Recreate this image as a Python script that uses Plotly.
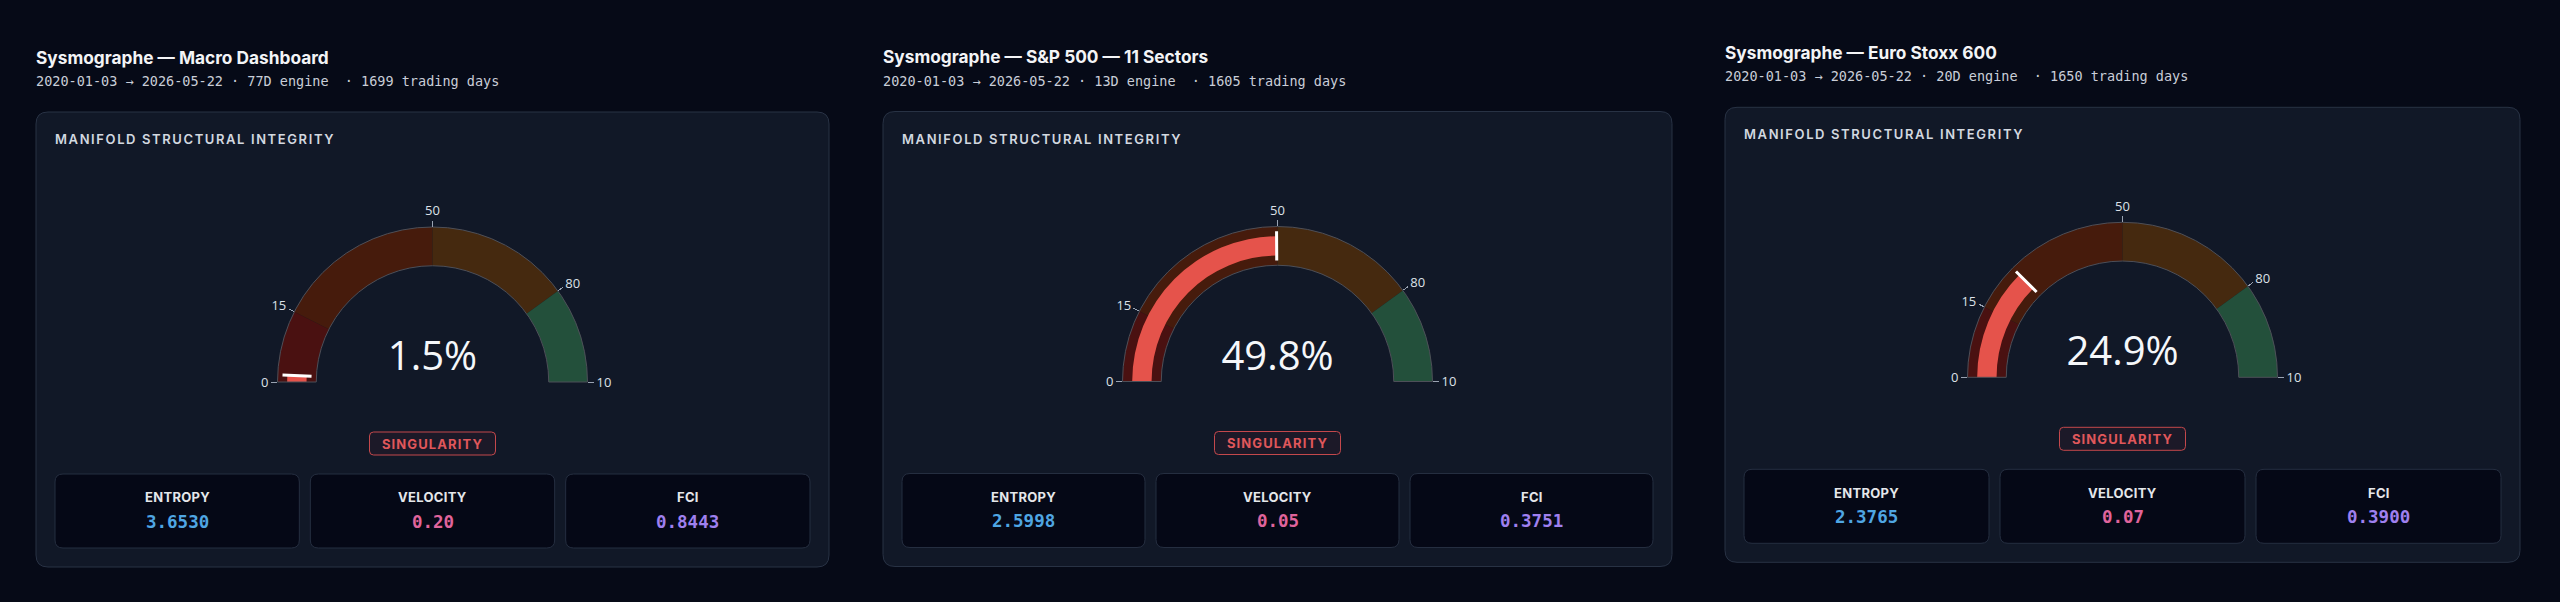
import plotly.graph_objects as go

W, H = 2560, 602

# ---------------- data ----------------
panel_names = ["Macro Dashboard", "S&P 500 — 11 Sectors", "Euro Stoxx 600"]
engine_dims = ["77D", "13D", "20D"]
trading_days = [1699, 1605, 1650]
start_dates = ["2020-01-03", "2020-01-03", "2020-01-03"]
end_dates = ["2026-05-22", "2026-05-22", "2026-05-22"]
integrity_pct = [1.5, 49.8, 24.9]
regime_labels = ["SINGULARITY", "SINGULARITY", "SINGULARITY"]
metric_names = ["ENTROPY", "VELOCITY", "FCI"]
entropy_vals = [3.6530, 2.5998, 2.3765]
velocity_vals = [0.20, 0.05, 0.07]
fci_vals = [0.8443, 0.3751, 0.3900]
step_edges = [0, 15, 50, 80, 100]
tick_vals = [0, 15, 50, 80, 100]
tick_labels = ["0", "15", "50", "80", "10"]

# ---------------- styling / layout ----------------
step_colors = ["#4a1111", "#461b0c", "#45290f", "#23503b"]
metric_colors = ["#4fa6e3", "#e0649c", "#9f80ef"]
metric_formats = ["{:.4f}", "{:.2f}", "{:.4f}"]

card_x0 = [36, 883, 1725]
card_y0 = [112, 111.5, 107.3]
card_w = [793, 789, 795]
gauge_r = 155

PAGE_BG = "#060a17"
CARD_BG = "#111827"
CARD_BORDER = "#283244"
BOX_BG = "#050816"
BOX_BORDER = "#252e40"


def px(x):
    return x / W


def py(y):
    return 1 - y / H


def rounded_rect(x0, y0, x1, y1, r):
    return (
        f"M {px(x0 + r)},{py(y0)} L {px(x1 - r)},{py(y0)} "
        f"Q {px(x1)},{py(y0)} {px(x1)},{py(y0 + r)} "
        f"L {px(x1)},{py(y1 - r)} Q {px(x1)},{py(y1)} {px(x1 - r)},{py(y1)} "
        f"L {px(x0 + r)},{py(y1)} Q {px(x0)},{py(y1)} {px(x0)},{py(y1 - r)} "
        f"L {px(x0)},{py(y0 + r)} Q {px(x0)},{py(y0)} {px(x0 + r)},{py(y0)} Z"
    )


fig = go.Figure()
shapes = []
annotations = []


def add_text(x, y, text, size, color, family, weight=400, xanchor="left"):
    annotations.append(dict(
        x=px(x), y=py(y), xref="paper", yref="paper", text=text,
        showarrow=False, xanchor=xanchor, yanchor="middle",
        font=dict(size=size, color=color, family=family, weight=weight),
        borderpad=0,
    ))


for i in range(3):
    x0, y0, w = card_x0[i], card_y0[i], card_w[i]
    x1 = x0 + w
    cx = x0 + w / 2

    # header
    add_text(x0 - 1, y0 - 55, f"Sysmographe — {panel_names[i]}", 17.3, "#f3f4f6", "Inter", 700)
    sub = (f"{start_dates[i]} → {end_dates[i]} · {engine_dims[i]} engine \u00a0· "
           f"{trading_days[i]} trading days")
    add_text(x0 - 1, y0 - 31, sub, 13.5, "#c9ced8", "DejaVu Sans Mono", 400)

    # card
    shapes.append(dict(type="path", path=rounded_rect(x0, y0, x1, y0 + 455, 12),
                       xref="paper", yref="paper", fillcolor=CARD_BG,
                       line=dict(color=CARD_BORDER, width=1), layer="below"))
    add_text(x0 + 18, y0 + 27,
             '<span style="letter-spacing:1.6px">MANIFOLD STRUCTURAL INTEGRITY</span>',
             13, "#d3d8e0", "Inter", 600)

    # gauge
    cy = y0 + 270
    fig.add_trace(go.Indicator(
        mode="gauge+number",
        value=integrity_pct[i],
        number=dict(suffix="%", valueformat=".1f",
                    font=dict(size=40, color="#f5f7fa", family="Open Sans")),
        domain=dict(x=[px(cx - gauge_r), px(cx + gauge_r)], y=[py(cy), py(cy - gauge_r)]),
        gauge=dict(
            shape="angular",
            axis=dict(range=[step_edges[0], step_edges[-1]], tickmode="array",
                      tickvals=tick_vals, ticktext=tick_labels,
                      tickfont=dict(size=13, color="#dde1e8", family="Open Sans"),
                      tickcolor="#9aa3b2", ticklen=6, tickwidth=1),
            bar=dict(color="#e5534b", thickness=0.5),
            bgcolor=CARD_BG,
            borderwidth=1,
            bordercolor="#4d4f58",
            steps=[dict(range=[step_edges[k], step_edges[k + 1]], color=step_colors[k])
                   for k in range(4)],
            threshold=dict(line=dict(color="#ffffff", width=3), thickness=0.75,
                           value=integrity_pct[i]),
        ),
    ))

    # regime badge
    by = y0 + 331.5
    shapes.append(dict(type="path", path=rounded_rect(cx - 63, by - 11.5, cx + 63, by + 11.5, 4),
                       xref="paper", yref="paper", fillcolor="rgba(239,68,68,0.05)",
                       line=dict(color="#c4484c", width=1), layer="below"))
    add_text(cx, by, f'<span style="letter-spacing:1.1px">{regime_labels[i]}</span>',
             13, "#e0575b", "Inter", 700, xanchor="center")

    # metric boxes
    vals = [entropy_vals[i], velocity_vals[i], fci_vals[i]]
    inner_w = w - 38
    gap = 11
    bw = (inner_w - 2 * gap) / 3
    for k in range(3):
        bx0 = x0 + 19 + k * (bw + gap)
        bx1 = bx0 + bw
        shapes.append(dict(type="path", path=rounded_rect(bx0, y0 + 362, bx1, y0 + 436, 8),
                           xref="paper", yref="paper", fillcolor=BOX_BG,
                           line=dict(color=BOX_BORDER, width=1), layer="below"))
        bc = (bx0 + bx1) / 2
        add_text(bc, y0 + 385.5, f'<span style="letter-spacing:0.3px">{metric_names[k]}</span>',
                 13, "#e5e7eb", "Inter", 700, xanchor="center")
        add_text(bc, y0 + 409.5, metric_formats[k].format(vals[k]), 17.5, metric_colors[k],
                 "DejaVu Sans Mono", 700, xanchor="center")

fig.update_layout(
    width=W, height=H,
    margin=dict(l=0, r=0, t=0, b=0),
    paper_bgcolor=PAGE_BG,
    plot_bgcolor=PAGE_BG,
    shapes=shapes,
    annotations=annotations,
    showlegend=False,
)

fig.write_html("out.html")
